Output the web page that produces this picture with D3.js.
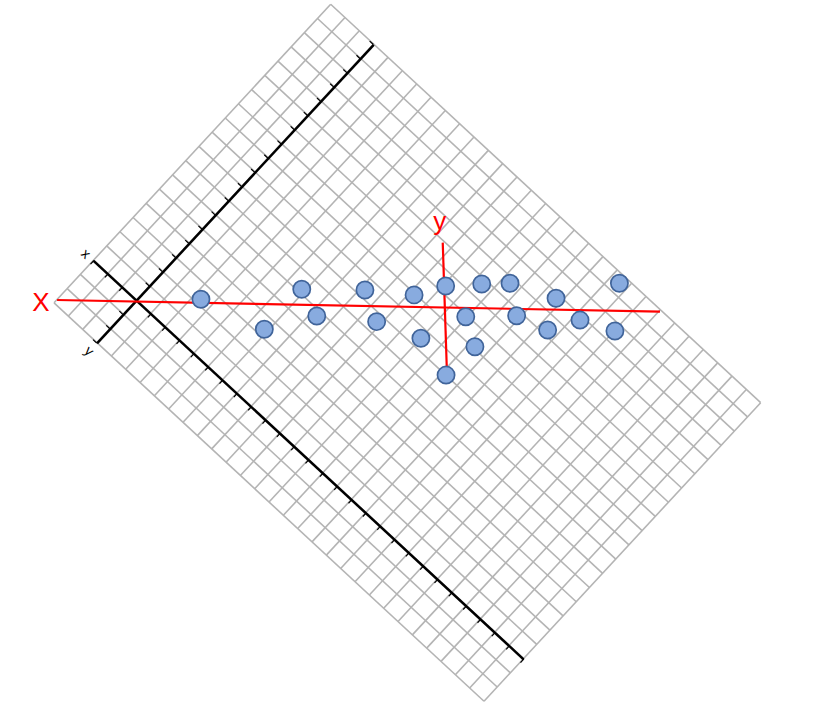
<!DOCTYPE html>
<html>
<head>
<meta charset="utf-8">
<script src="https://cdn.jsdelivr.net/npm/d3@7"></script>
<style>
  html, body { margin: 0; padding: 0; background: #ffffff; }
  svg { display: block; }
</style>
</head>
<body>
<div id="chart"></div>
<script>
// ---- Data ----
// Original (rotated) coordinate frame: grid cells and black axes
const gridXValues = d3.range(-3, 28);   // vertical grid lines (original x units)
const gridYValues = d3.range(-3, 19);   // horizontal grid lines (original y units)
const axisTickX = d3.range(-3, 28);
const axisTickY = d3.range(-3, 19);
const axisLabelX = "x";
const axisLabelY = "y";

// New frame (red axes): data points
const pointX = [-12.49, -9.24, -7.32, -6.55, -4.08, -3.48, -1.56, -1.21, 0.06, 0.08,
                 1.09,  1.56,  1.91,  3.36,  3.70,  5.29,  5.72,  6.95, 8.74, 8.97];
const pointY = [ 0.41, -1.13,  0.92, -0.45,  0.88, -0.74,  0.63, -1.59, 1.09, -3.48,
                -0.49, -2.03,  1.19,  1.23, -0.44, -1.17,  0.46, -0.66, -1.22, 1.23];

// Red principal axes (endpoints in the new frame)
const redAxisXLineX = [-19.87, 11.05];
const redAxisXLineY = [0.37, -0.23];
const redAxisYLineX = [-0.09, 0.14];
const redAxisYLineY = [3.31, -3.82];
const redLabelX = "X";
const redLabelY = "y";

// ---- Layout ----
const W = 814, H = 722;
const svg = d3.select("#chart").append("svg").attr("width", W).attr("height", H);

// Rotated original frame
const rotAngle = 42.82;
const origin = [136.5, 301.5];
const gx = d3.scaleLinear().domain([-3, 27]).range([-59.6, 526.6]);
const gy = d3.scaleLinear().domain([-3, 18]).range([57.0, -350.0]);

const rg = svg.append("g")
  .attr("transform", `translate(${origin[0]},${origin[1]}) rotate(${rotAngle})`);

const gridColor = "#b4b4b4";
rg.append("g").selectAll("line.v").data(gridXValues).join("line")
  .attr("x1", d => gx(d)).attr("x2", d => gx(d))
  .attr("y1", gy(-3)).attr("y2", gy(18))
  .attr("stroke", gridColor).attr("stroke-width", 1.6);
rg.append("g").selectAll("line.h").data(gridYValues).join("line")
  .attr("y1", d => gy(d)).attr("y2", d => gy(d))
  .attr("x1", gx(-3)).attr("x2", gx(27))
  .attr("stroke", gridColor).attr("stroke-width", 1.6);

// Black axes
const xAxisG = rg.append("g").attr("transform", `translate(0,${gy(0)})`)
  .call(d3.axisBottom(gx).tickValues(axisTickX).tickSize(5).tickSizeOuter(0).tickFormat(""));
const yAxisG = rg.append("g").attr("transform", `translate(${gx(0)},0)`)
  .call(d3.axisLeft(gy).tickValues(axisTickY).tickSize(5).tickSizeOuter(0).tickFormat(""));
[xAxisG, yAxisG].forEach(a => {
  a.select(".domain").attr("stroke", "#000").attr("stroke-width", 2.5);
  a.selectAll(".tick line").attr("stroke", "#000").attr("stroke-width", 1.2);
});

rg.append("text").attr("x", gx(-3) - 10).attr("y", gy(0))
  .attr("text-anchor", "middle").attr("dominant-baseline", "central")
  .attr("font-family", "Liberation Sans, Arial, sans-serif").attr("font-size", 14)
  .attr("fill", "#000").text(axisLabelX);
rg.append("text").attr("x", gx(0)).attr("y", gy(-3) + 11)
  .attr("text-anchor", "middle").attr("dominant-baseline", "central")
  .attr("font-family", "Liberation Sans, Arial, sans-serif").attr("font-size", 14)
  .attr("fill", "#000").text(axisLabelY);

// New (screen-aligned) frame
const unit = 19.5;
const cx0 = 444.5, cy0 = 307.2;
const xScale = d3.scaleLinear().domain([-20, 12]).range([cx0 - 20 * unit, cx0 + 12 * unit]);
const yScale = d3.scaleLinear().domain([-5, 5]).range([cy0 + 5 * unit, cy0 - 5 * unit]);

const red = "#ff0000";
svg.append("line")
  .attr("x1", xScale(redAxisXLineX[0])).attr("y1", yScale(redAxisXLineY[0]))
  .attr("x2", xScale(redAxisXLineX[1])).attr("y2", yScale(redAxisXLineY[1]))
  .attr("stroke", red).attr("stroke-width", 2.2);
svg.append("line")
  .attr("x1", xScale(redAxisYLineX[0])).attr("y1", yScale(redAxisYLineY[0]))
  .attr("x2", xScale(redAxisYLineX[1])).attr("y2", yScale(redAxisYLineY[1]))
  .attr("stroke", red).attr("stroke-width", 2.2);

svg.append("text")
  .attr("x", xScale(redAxisXLineX[0]) - 16).attr("y", yScale(redAxisXLineY[0]) + 11)
  .attr("text-anchor", "middle")
  .attr("font-family", "Liberation Sans, Arial, sans-serif").attr("font-size", 26)
  .attr("fill", red).text(redLabelX);
svg.append("text")
  .attr("x", xScale(redAxisYLineX[0]) - 3).attr("y", yScale(redAxisYLineY[0]) - 13)
  .attr("text-anchor", "middle")
  .attr("font-family", "Liberation Sans, Arial, sans-serif").attr("font-size", 26)
  .attr("fill", red).text(redLabelY);

// Points
svg.append("g").selectAll("circle").data(pointX.map((x, i) => [x, pointY[i]])).join("circle")
  .attr("cx", d => xScale(d[0])).attr("cy", d => yScale(d[1]))
  .attr("r", 8.6)
  .attr("fill", "#88abdf").attr("stroke", "#40649a").attr("stroke-width", 1.7);
</script>
</body>
</html>
